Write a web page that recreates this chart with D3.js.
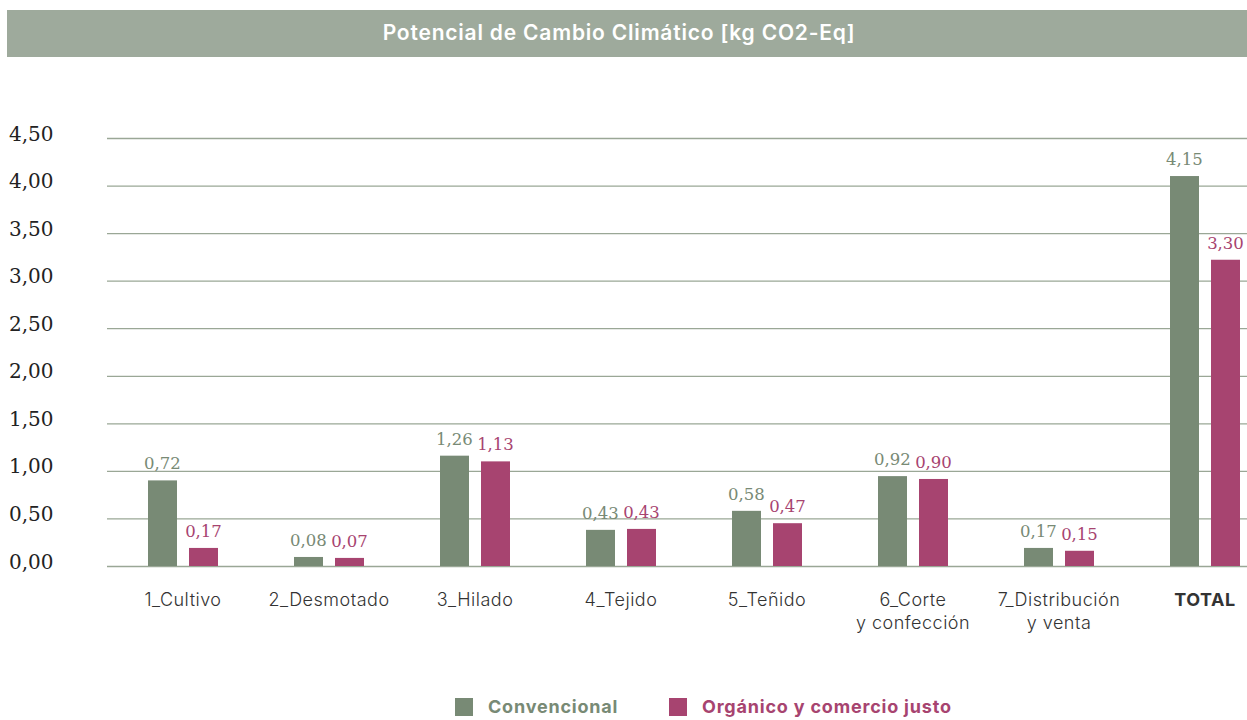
<!DOCTYPE html>
<html>
<head>
<meta charset="utf-8">
<script src="https://cdn.jsdelivr.net/npm/d3@7"></script>
<style>
  body { margin: 0; background: #fff; }
</style>
</head>
<body>
<div id="chart"></div>
<script>
  const categories = ["1_Cultivo", "2_Desmotado", "3_Hilado", "4_Tejido", "5_Teñido", "6_Corte\ny confección", "7_Distribución\ny venta", "TOTAL"];
  const series = ["Convencional", "Orgánico y comercio justo"];
  // bar heights as drawn
  const convencional = [0.90, 0.095, 1.16, 0.38, 0.58, 0.945, 0.19, 4.10];
  const organico = [0.19, 0.085, 1.10, 0.39, 0.45, 0.915, 0.16, 3.22];
  // value labels as printed on the chart
  const convLabels = ["0,72", "0,08", "1,26", "0,43", "0,58", "0,92", "0,17", "4,15"];
  const orgLabels = ["0,17", "0,07", "1,13", "0,43", "0,47", "0,90", "0,15", "3,30"];
  const yTicks = [0, 0.5, 1, 1.5, 2, 2.5, 3, 3.5, 4, 4.5];
  const title = "Potencial de Cambio Climático [kg CO2-Eq]";

  const colors = ["#788a75", "#a74470"];
  const width = 1247, height = 720;

  const svg = d3.select("#chart")
    .append("svg")
    .attr("width", width)
    .attr("height", height);

  // title banner
  svg.append("rect")
    .attr("x", 7).attr("y", 10)
    .attr("width", width - 7).attr("height", 47)
    .attr("fill", "#9eaa9c");

  svg.append("text")
    .attr("x", 619).attr("y", 40)
    .attr("text-anchor", "middle")
    .attr("fill", "#fff")
    .style("font-family", "Inter, sans-serif")
    .style("font-weight", 600)
    .style("font-size", "21px")
    .style("letter-spacing", "0.8px")
    .text(title);

  const x0 = d3.scaleBand()
    .domain(categories)
    .range([110, 1278]);

  const x1 = d3.scaleBand()
    .domain(series)
    .range([x0.bandwidth() / 2 - 35, x0.bandwidth() / 2 + 35])
    .paddingInner(0.2927);

  const y = d3.scaleLinear()
    .domain([0, 4.5])
    .range([566, 138]);

  // grid + y labels
  const yAxis = svg.append("g")
    .attr("transform", "translate(107,0)")
    .call(d3.axisLeft(y)
      .tickValues(yTicks)
      .tickSize(-(width - 107))
      .tickFormat(d => d3.format(".2f")(d).replace(".", ",")));

  yAxis.select(".domain").remove();
  yAxis.selectAll(".tick line")
    .attr("stroke", "#9aa796")
    .attr("stroke-width", 1.3);
  yAxis.selectAll(".tick text")
    .attr("x", -107 + 9)
    .attr("text-anchor", "start")
    .attr("dy", "0.1em")
    .attr("fill", "#222")
    .style("font-family", "'DejaVu Serif', serif")
    .style("font-size", "20px");

  const rows = categories.map((c, i) => ({
    cat: c,
    vals: [
      { s: series[0], v: convencional[i], label: convLabels[i], color: colors[0] },
      { s: series[1], v: organico[i], label: orgLabels[i], color: colors[1] }
    ]
  }));

  const groups = svg.append("g")
    .selectAll("g")
    .data(rows)
    .join("g")
    .attr("transform", d => `translate(${x0(d.cat)},0)`);

  groups.selectAll("rect")
    .data(d => d.vals)
    .join("rect")
    .attr("x", d => x1(d.s))
    .attr("y", d => y(d.v))
    .attr("width", x1.bandwidth())
    .attr("height", d => y(0) - y(d.v))
    .attr("fill", d => d.color);

  groups.selectAll("text.val")
    .data(d => d.vals)
    .join("text")
    .attr("class", "val")
    .attr("x", d => x1(d.s) + x1.bandwidth() / 2)
    .attr("y", d => y(d.v) - 11)
    .attr("text-anchor", "middle")
    .attr("fill", d => d.color)
    .style("font-family", "'DejaVu Serif', serif")
    .style("font-size", "16.5px")
    .text(d => d.label);

  // category labels
  const catLabels = svg.append("g")
    .selectAll("text")
    .data(categories)
    .join("text")
    .attr("x", d => x0(d) + x0.bandwidth() / 2)
    .attr("y", 606)
    .attr("text-anchor", "middle")
    .attr("fill", "#333")
    .style("font-family", "Inter, sans-serif")
    .style("font-weight", d => d === "TOTAL" ? 700 : 300)
    .style("font-size", "18px")
    .style("letter-spacing", "0.5px");

  catLabels.selectAll("tspan")
    .data(d => d.split("\n"))
    .join("tspan")
    .attr("x", function() { return d3.select(this.parentNode).attr("x"); })
    .attr("dy", (d, i) => i === 0 ? 0 : 23)
    .text(d => d);

  // legend
  const legendX = [455, 669];
  const legend = svg.append("g")
    .selectAll("g")
    .data(series)
    .join("g")
    .attr("transform", (d, i) => `translate(${legendX[i]},698)`);

  legend.append("rect")
    .attr("width", 18)
    .attr("height", 18)
    .attr("fill", (d, i) => colors[i]);

  legend.append("text")
    .attr("x", 33)
    .attr("y", 15)
    .attr("fill", (d, i) => colors[i])
    .style("font-family", "Inter, sans-serif")
    .style("font-weight", 700)
    .style("font-size", "18px")
    .style("letter-spacing", "0.8px")
    .text(d => d);
</script>
</body>
</html>
